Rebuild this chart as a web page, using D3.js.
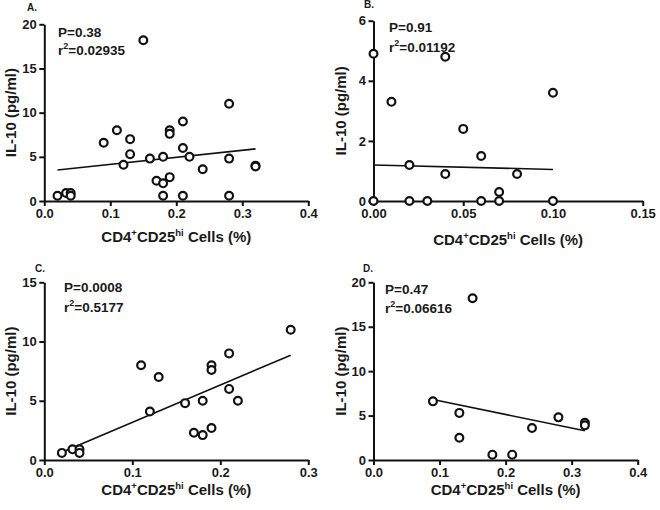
<!DOCTYPE html>
<html>
<head>
<meta charset="utf-8">
<script src="https://cdn.jsdelivr.net/npm/d3@7/dist/d3.min.js"></script>
<style>
  html, body { margin: 0; padding: 0; background: #fff; }
  svg text { font-family: "Liberation Sans", Arial, sans-serif; font-weight: bold; fill: #1a1a1a; }
</style>
</head>
<body>
<svg id="chart" width="660" height="510"></svg>
<script>
// ---- Data ----
const aX = [0.02, 0.033, 0.04, 0.04, 0.15, 0.09, 0.11, 0.13, 0.13, 0.12, 0.16, 0.18, 0.17, 0.18, 0.18, 0.19, 0.19, 0.19, 0.21, 0.21, 0.22, 0.21, 0.24, 0.28, 0.28, 0.28, 0.32, 0.32];
const aY = [0.6, 0.9, 0.9, 0.6, 18.2, 6.6, 8.0, 7.0, 5.3, 4.1, 4.8, 5.0, 2.3, 2.0, 0.6, 2.7, 8.0, 7.6, 9.0, 6.0, 5.0, 0.6, 3.6, 11.0, 4.8, 0.6, 4.0, 3.9];
const aFitX = [0.02, 0.32];
const aFitY = [3.5, 5.9];

const bX = [0, 0.01, 0.04, 0.05, 0.06, 0.02, 0.04, 0.08, 0.07, 0.10, 0, 0.02, 0.03, 0.06, 0.07, 0.10];
const bY = [4.9, 3.3, 4.8, 2.4, 1.5, 1.2, 0.9, 0.9, 0.3, 3.6, 0, 0, 0, 0, 0, 0];
const bFitX = [0, 0.10];
const bFitY = [1.2, 1.05];

const cX = [0.02, 0.032, 0.04, 0.04, 0.11, 0.12, 0.13, 0.16, 0.17, 0.18, 0.18, 0.19, 0.19, 0.19, 0.21, 0.21, 0.22, 0.28];
const cY = [0.6, 0.9, 0.9, 0.6, 8.0, 4.1, 7.0, 4.8, 2.3, 2.1, 5.0, 2.7, 8.0, 7.6, 9.0, 6.0, 5.0, 11.0];
const cFitX = [0.02, 0.28];
const cFitY = [0.65, 8.85];

const dX = [0.09, 0.15, 0.13, 0.13, 0.18, 0.21, 0.24, 0.28, 0.32, 0.32];
const dY = [6.6, 18.2, 5.3, 2.5, 0.6, 0.6, 3.6, 4.8, 4.2, 3.9];
const dFitX = [0.09, 0.32];
const dFitY = [6.8, 3.3];

const panelLabels = ["A.", "B.", "C.", "D."];
const pTexts = ["P=0.38", "P=0.91", "P=0.0008", "P=0.47"];
const r2Texts = ["=0.02935", "=0.01192", "=0.5177", "=0.06616"];

const aXTicks = [0, 0.1, 0.2, 0.3, 0.4];
const bXTicks = [0, 0.05, 0.10, 0.15];
const cXTicks = [0, 0.1, 0.2, 0.3];
const dXTicks = [0, 0.1, 0.2, 0.3, 0.4];
const aYTicks = [0, 5, 10, 15, 20];
const bYTicks = [0, 2, 4, 6];
const cYTicks = [0, 5, 10, 15];
const dYTicks = [0, 5, 10, 15, 20];

const yTitle = "IL-10 (pg/ml)";

// ---- Layout ----
const panels = [
  { xs: aX, ys: aY, fx: aFitX, fy: aFitY, xd: [0, 0.4], yd: [0, 20], xt: aXTicks, yt: aYTicks, xf: ".1f",
    xr: [44.3, 308.3], yr: [201, 24.3], lab: [27, 11], pt: [58, 36.5], r2: [58, 54.5], yl: 16, xl: 242 },
  { xs: bX, ys: bY, fx: bFitX, fy: bFitY, xd: [0, 0.15], yd: [0, 6], xt: bXTicks, yt: bYTicks, xf: ".2f",
    xr: [373.5, 642.7], yr: [201, 20.7], lab: [364, 7.5], pt: [389, 31.5], r2: [389, 51.5], yl: 346, xl: 245 },
  { xs: cX, ys: cY, fx: cFitX, fy: cFitY, xd: [0, 0.3], yd: [0, 15], xt: cXTicks, yt: cYTicks, xf: ".1f",
    xr: [44.3, 308.3], yr: [460, 282.3], lab: [35, 271.5], pt: [64, 292], r2: [64, 312], yl: 16, xl: 495 },
  { xs: dX, ys: dY, fx: dFitX, fy: dFitY, xd: [0, 0.4], yd: [0, 20], xt: dXTicks, yt: dYTicks, xf: ".1f",
    xr: [373.5, 637.7], yr: [460, 282.3], lab: [363, 271.5], pt: [385, 294], r2: [385, 313], yl: 346, xl: 495 }
];

const svg = d3.select("#chart");

panels.forEach((p, i) => {
  const x = d3.scaleLinear().domain(p.xd).range(p.xr);
  const y = d3.scaleLinear().domain(p.yd).range(p.yr);
  const g = svg.append("g");

  // axes
  const xAxis = d3.axisBottom(x).tickValues(p.xt).tickFormat(d3.format(p.xf)).tickSize(5).tickSizeOuter(0).tickPadding(2.5);
  const yAxis = d3.axisLeft(y).tickValues(p.yt).tickFormat(d3.format("d")).tickSize(5).tickSizeOuter(0).tickPadding(2.5);
  const gx = g.append("g").attr("transform", `translate(0,${p.yr[0]})`).call(xAxis);
  const gy = g.append("g").attr("transform", `translate(${p.xr[0]},0)`).call(yAxis);
  [gx, gy].forEach(ax => {
    ax.select(".domain").attr("stroke", "#111").attr("stroke-width", 2);
    ax.selectAll(".tick line").attr("stroke", "#111").attr("stroke-width", 2);
    ax.selectAll(".tick text").attr("font-size", 13).attr("font-family", "Liberation Sans, Arial, sans-serif")
      .attr("font-weight", "bold").attr("fill", "#1a1a1a");
  });

  // regression line
  const fit = p.fx.map((v, k) => [v, p.fy[k]]);
  g.append("path").datum(fit)
    .attr("d", d3.line().x(d => x(d[0])).y(d => y(d[1])))
    .attr("fill", "none").attr("stroke", "#111").attr("stroke-width", 1.6);

  // points
  const pts = p.xs.map((v, k) => [v, p.ys[k]]);
  g.selectAll("circle.pt").data(pts).enter().append("circle")
    .attr("class", "pt")
    .attr("cx", d => x(d[0])).attr("cy", d => y(d[1])).attr("r", 3.9)
    .attr("fill", "#fff").attr("stroke", "#111").attr("stroke-width", 2.2);

  // panel letter
  g.append("text").attr("x", p.lab[0]).attr("y", p.lab[1]).attr("font-size", 10).text(panelLabels[i]);

  // stats
  g.append("text").attr("x", p.pt[0]).attr("y", p.pt[1]).attr("font-size", 13.5).text(pTexts[i]);
  const r2 = g.append("text").attr("x", p.r2[0]).attr("y", p.r2[1]).attr("font-size", 13.5);
  r2.append("tspan").text("r");
  r2.append("tspan").attr("font-size", 9).attr("dy", -6).text("2");
  r2.append("tspan").attr("dy", 6).text(r2Texts[i]);

  // y title
  const cy = (p.yr[0] + p.yr[1]) / 2;
  g.append("text").attr("transform", `translate(${p.yl},${cy}) rotate(-90)`)
    .attr("text-anchor", "middle").attr("font-size", 15).text(yTitle);

  // x title
  const cx = (p.xr[0] + p.xr[1]) / 2;
  const xt = g.append("text").attr("x", cx).attr("y", p.xl).attr("text-anchor", "middle").attr("font-size", 15);
  xt.append("tspan").text("CD4");
  xt.append("tspan").attr("font-size", 9.5).attr("dy", -6).text("+");
  xt.append("tspan").attr("dy", 6).text("CD25");
  xt.append("tspan").attr("font-size", 9.5).attr("dy", -6).text("hi");
  xt.append("tspan").attr("dy", 6).text(" Cells (%)");
});
</script>
</body>
</html>
